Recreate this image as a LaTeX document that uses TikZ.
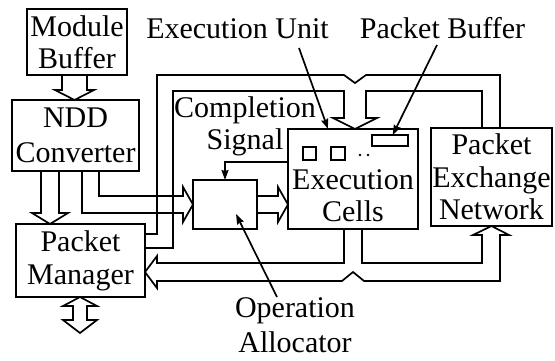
\documentclass[tikz,border=0pt]{standalone}
\usepackage{fontspec}
\setmainfont{Liberation Serif}
\usetikzlibrary{arrows.meta}
\begin{document}
\begin{tikzpicture}[x=1pt,y=-1pt,
  lw/.style={line width=1.7pt},
  box/.style={draw, lw, inner sep=0pt, outer sep=0pt, align=center, font=\fontsize{30}{32}\selectfont},
  lbl/.style={inner sep=0pt, outer sep=0pt, align=center, font=\fontsize{30}{32}\selectfont},
  pipe/.style={lw, line join=miter, miter limit=20},
  lead/.style={lw, -{Stealth[length=10pt,width=7pt,inset=1pt]}},
  dotnode/.style={circle, fill, inner sep=0pt, minimum size=2.6pt},
]
\useasboundingbox (0,0) rectangle (555,360);

% boxes
\node[box, minimum width=100pt, minimum height=66pt] (mb) at (77,42) {Module\\Buffer};
\node[box, minimum width=127pt, minimum height=71pt, font=\fontsize{30}{35}\selectfont] (ndd) at (75.5,135.5) {NDD\\Converter};
\node[box, minimum width=129pt, minimum height=73pt, font=\fontsize{30}{33}\selectfont] (pm) at (80.5,260.5) {Packet\\Manager};
\node[box, minimum width=64pt, minimum height=49pt] (oa) at (225,204.5) {};
\node[box, minimum width=130pt, minimum height=100pt] (ec) at (353,179) {};
\node[lbl] (ect) at (353,195.75) {Execution\\Cells};
\node[box, minimum width=121pt, minimum height=98pt, font=\fontsize{30}{32.5}\selectfont] (pen) at (491.5,177) {Packet\\Exchange\\Network};
\node[box, minimum width=36pt, minimum height=11pt] (pb) at (390,140.5) {};
\node[box, minimum width=13pt, minimum height=13pt] (eu1) at (309.5,153.5) {};
\node[box, minimum width=14pt, minimum height=13pt] (eu2) at (338,153.5) {};
\node[dotnode] (d1) at (360,155) {};
\node[dotnode] (d2) at (368,155) {};

% labels
\node[lbl, anchor=base] (eul) at (237.5,38) {Execution Unit};
\node[lbl, anchor=base] (pbl) at (442.5,38) {Packet Buffer};
\node[lbl] (csl) at (245,126) {Completion\\Signal};
\node[lbl, font=\fontsize{30}{35}\selectfont] (oal) at (295,325.25) {Operation\\Allocator};

% pipe: Module Buffer -> NDD
\draw[pipe] (62,0 |- mb.south) -- (62,90) -- (55,90) -- (74.5,0 |- ndd.north) -- (94,90) -- (87,90) -- (87,0 |- mb.south);
% pipe: NDD -> Packet Manager
\draw[pipe] (41,0 |- ndd.south) -- (41,213) -- (32,213) -- (50,0 |- pm.north) -- (68,213) -- (59,213) -- (59,0 |- ndd.south);
% pipe: NDD -> Operation Allocator
\draw[pipe] (82,0 |- ndd.south) -- (82,213) -- (183,213) -- (183,222) -- (oa.west) -- (183,187) -- (183,196) -- (99,196) -- (99,0 |- ndd.south);
% pipe: Operation Allocator -> Execution Cells
\draw[pipe] (oa.east |- 0,196) -- (278,196) -- (278,187) -- (ec.west |- oa.west) -- (278,222) -- (278,213) -- (oa.east |- 0,213);
% pipe: Packet Manager -> Execution Cells / Packet Exchange Network (top)
\draw[pipe] (pm.east |- 0,234) -- (157,234) -- (157,75) -- (344,75) -- (355,83) -- (366,75) -- (500,75) -- (500,0 |- pen.north);
\draw[pipe] (pm.east |- 0,248) -- (173,248) -- (173,91) -- (344,91) -- (344,118) -- (333,118) -- (355,0 |- ec.north) -- (377,118) -- (366,118) -- (366,91) -- (482,91) -- (482,0 |- pen.north);
% pipe: Execution Cells -> Packet Manager / Packet Exchange Network (bottom)
\draw[pipe] (344,0 |- ec.south) -- (344,263) -- (157,263) -- (157,256) -- (pm.east |- 0,272) -- (157,288) -- (157,281) -- (342,281) -- (353,272) -- (364,281) -- (500,281) -- (500,235) -- (509,235) -- (pen.south) -- (473,235) -- (482,235) -- (482,263) -- (362,263) -- (362,0 |- ec.south);
% double arrow below Packet Manager
\draw[pipe] (80,0 |- pm.south) -- (97,306) -- (87,306) -- (87,320) -- (97,320) -- (80,333) -- (63,320) -- (73,320) -- (73,306) -- (63,306) -- cycle;

% completion signal
\draw[lead] (ec.west |- 0,162) -| (oa.north);

% leaders
\coordinate (eus) at (299,48);
\draw[lead] (eus) -- (328,0 |- ec.north);
\coordinate (pbs) at (437,45);
\draw[lead] (pbs) -- (pb);
\coordinate (oas) at (277,297);
\coordinate (oat) at (236,214);
\draw[lead] (oas) -- (oat);
\end{tikzpicture}
\end{document}
